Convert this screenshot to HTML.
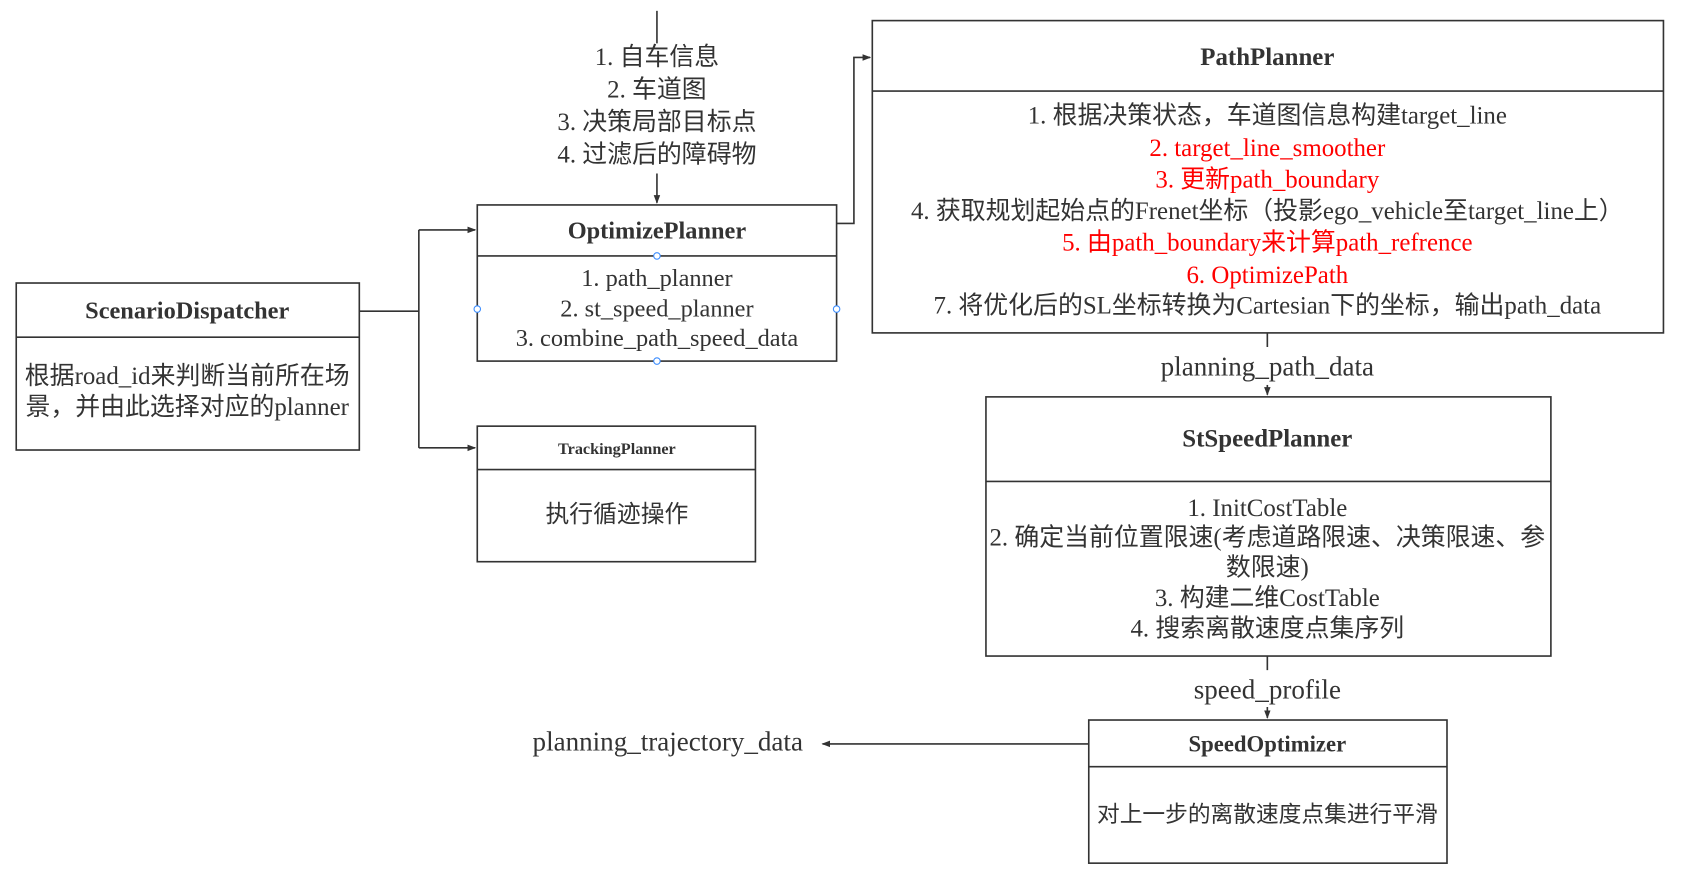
<!DOCTYPE html>
<html><head><meta charset="utf-8"><style>
html,body{margin:0;padding:0;background:#fff;}
svg{display:block;}
text{font-family:"Liberation Serif","Noto Sans CJK SC",serif;fill:#333;text-anchor:middle;dominant-baseline:central;}
.b{font-weight:bold;}
.r{fill:#ff0000;}
</style></head><body>
<svg width="1697" height="874" viewBox="0 0 1568 806" preserveAspectRatio="none" xmlns="http://www.w3.org/2000/svg">
<defs><marker id="a" markerWidth="8" markerHeight="8" refX="7" refY="4" orient="auto" markerUnits="userSpaceOnUse"><path d="M0,1 L8,4 L0,7 Z" fill="#333"/></marker></defs>
<g fill="none" stroke="#333" stroke-width="1.5">
<line x1="607" y1="10" x2="607" y2="40"/>
<line x1="607" y1="160" x2="607" y2="187" marker-end="url(#a)"/>
<rect x="441" y="189" width="332" height="144"/><line x1="441" y1="236" x2="773" y2="236"/>
<rect x="15" y="261" width="317" height="154"/><line x1="15" y1="311" x2="332" y2="311"/>
<polyline points="332,287 387,287"/>
<polyline points="387,212 387,413"/>
<line x1="387" y1="212" x2="439" y2="212" marker-end="url(#a)"/>
<line x1="387" y1="413" x2="439" y2="413" marker-end="url(#a)"/>
<rect x="441" y="393" width="257" height="125"/><line x1="441" y1="433" x2="698" y2="433"/>
<polyline points="773,206 789,206 789,53 804,53" marker-end="url(#a)"/>
<rect x="806" y="19" width="731" height="288"/><line x1="806" y1="84" x2="1537" y2="84"/>
<line x1="1171" y1="307" x2="1171" y2="320"/>
<line x1="1171" y1="355" x2="1171" y2="364" marker-end="url(#a)"/>
<rect x="911" y="366" width="522" height="239"/><line x1="911" y1="444" x2="1433" y2="444"/>
<line x1="1171" y1="605" x2="1171" y2="618"/>
<line x1="1171" y1="652" x2="1171" y2="662" marker-end="url(#a)"/>
<rect x="1006" y="664" width="331" height="132"/><line x1="1006" y1="707" x2="1337" y2="707"/>
<line x1="1006" y1="686" x2="760" y2="686" marker-end="url(#a)"/>
</g>
<g fill="#fff" stroke="#3d8eff" stroke-width="1">
<circle cx="607" cy="236" r="3"/><circle cx="607" cy="333" r="3"/><circle cx="441" cy="285" r="3"/><circle cx="773" cy="285" r="3"/>
</g>
<g font-size="23">
<text x="607" y="53">1. 自车信息</text>
<text x="607" y="83">2. 车道图</text>
<text x="607" y="113">3. 决策局部目标点</text>
<text x="607" y="143">4. 过滤后的障碍物</text>
<text x="607" y="213" class="b" font-size="22.5">OptimizePlanner</text>
<text x="607" y="257" font-size="22.5">1. path_planner</text>
<text x="607" y="285" font-size="22.5">2. st_speed_planner</text>
<text x="607" y="312" font-size="22.5">3. combine_path_speed_data</text>
<text x="173" y="287" class="b" font-size="22.5">ScenarioDispatcher</text>
<text x="173" y="347">根据road_id来判断当前所在场</text>
<text x="173" y="376">景，并由此选择对应的planner</text>
<text x="570" y="414" class="b" font-size="15">TrackingPlanner</text>
<text x="570" y="475" font-size="22">执行循迹操作</text>
<text x="1171" y="53" class="b">PathPlanner</text>
<text x="1171" y="107">1. 根据决策状态，车道图信息构建target_line</text>
<text x="1171" y="137" class="r">2. target_line_smoother</text>
<text x="1171" y="166" class="r">3. 更新path_boundary</text>
<text x="1171" y="195">4. 获取规划起始点的Frenet坐标（投影ego_vehicle至target_line上）</text>
<text x="1171" y="224" class="r">5. 由path_boundary来计算path_refrence</text>
<text x="1171" y="254" class="r">6. OptimizePath</text>
<text x="1171" y="282">7. 将优化后的SL坐标转换为Cartesian下的坐标，输出path_data</text>
<text x="1171" y="338" font-size="25">planning_path_data</text>
<text x="1171" y="405" class="b">StSpeedPlanner</text>
<text x="1171" y="469">1. InitCostTable</text>
<text x="1171" y="496">2. 确定当前位置限速(考虑道路限速、决策限速、参</text>
<text x="1171" y="524">数限速)</text>
<text x="1171" y="552">3. 构建二维CostTable</text>
<text x="1171" y="580">4. 搜索离散速度点集序列</text>
<text x="1171" y="636" font-size="25">speed_profile</text>
<text x="1171" y="686" class="b" font-size="21">SpeedOptimizer</text>
<text x="1171" y="751" font-size="21">对上一步的离散速度点集进行平滑</text>
<text x="617" y="684" font-size="25">planning_trajectory_data</text>
</g>
</svg>
</body></html>
